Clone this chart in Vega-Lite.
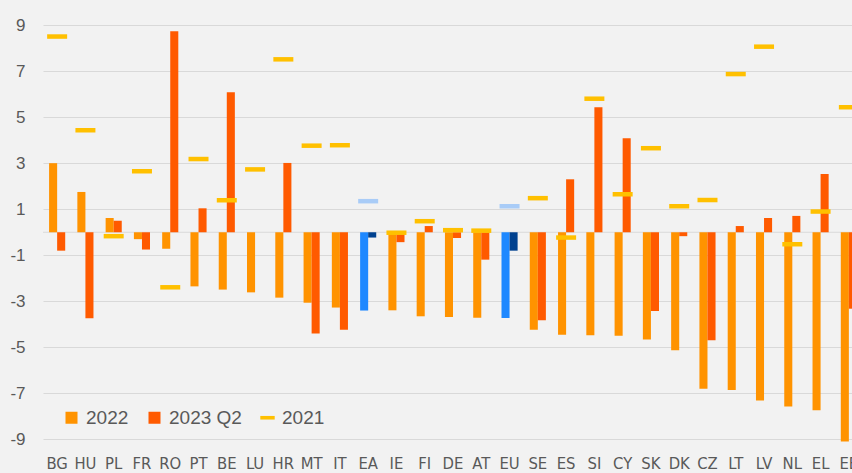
{
  "$schema": "https://vega.github.io/schema/vega-lite/v6.json",
  "width": 809,
  "height": 449,
  "autosize": {"type": "none"},
  "padding": {"left": 43, "top": 2, "right": 0, "bottom": 22},
  "background": "#F2F2F2",
  "config": {
    "view": {"stroke": null},
    "font": "Liberation Sans",
    "axis": {"domain": false, "ticks": false, "labelColor": "#595959", "title": null},
    "axisY": {"grid": true, "gridColor": "#D9D9D9", "gridWidth": 1, "labelFontSize": 17, "labelPadding": 18, "labelFont": "Liberation Sans"},
    "axisX": {"grid": false, "labelFontSize": 16.5, "labelPadding": 4, "labelAngle": 0, "labelFont": "Liberation Sans Narrow, DejaVu Sans Condensed, Liberation Sans"}
  },
  "data": {
    "values": [
      {"country": "BG", "area": "country", "series": "2022", "value": 3.0},
      {"country": "BG", "area": "country", "series": "2023 Q2", "value": -0.8},
      {"country": "BG", "area": "country", "series": "2021", "value": 8.5},
      {"country": "HU", "area": "country", "series": "2022", "value": 1.75},
      {"country": "HU", "area": "country", "series": "2023 Q2", "value": -3.73},
      {"country": "HU", "area": "country", "series": "2021", "value": 4.43},
      {"country": "PL", "area": "country", "series": "2022", "value": 0.62},
      {"country": "PL", "area": "country", "series": "2023 Q2", "value": 0.5},
      {"country": "PL", "area": "country", "series": "2021", "value": -0.17},
      {"country": "FR", "area": "country", "series": "2022", "value": -0.3},
      {"country": "FR", "area": "country", "series": "2023 Q2", "value": -0.75},
      {"country": "FR", "area": "country", "series": "2021", "value": 2.65},
      {"country": "RO", "area": "country", "series": "2022", "value": -0.72},
      {"country": "RO", "area": "country", "series": "2023 Q2", "value": 8.73},
      {"country": "RO", "area": "country", "series": "2021", "value": -2.39},
      {"country": "PT", "area": "country", "series": "2022", "value": -2.35},
      {"country": "PT", "area": "country", "series": "2023 Q2", "value": 1.04},
      {"country": "PT", "area": "country", "series": "2021", "value": 3.18},
      {"country": "BE", "area": "country", "series": "2022", "value": -2.49},
      {"country": "BE", "area": "country", "series": "2023 Q2", "value": 6.08},
      {"country": "BE", "area": "country", "series": "2021", "value": 1.39},
      {"country": "LU", "area": "country", "series": "2022", "value": -2.61},
      {"country": "LU", "area": "country", "series": "2023 Q2", "value": 0.0},
      {"country": "LU", "area": "country", "series": "2021", "value": 2.73},
      {"country": "HR", "area": "country", "series": "2022", "value": -2.84},
      {"country": "HR", "area": "country", "series": "2023 Q2", "value": 3.01},
      {"country": "HR", "area": "country", "series": "2021", "value": 7.51},
      {"country": "MT", "area": "country", "series": "2022", "value": -3.06},
      {"country": "MT", "area": "country", "series": "2023 Q2", "value": -4.4},
      {"country": "MT", "area": "country", "series": "2021", "value": 3.76},
      {"country": "IT", "area": "country", "series": "2022", "value": -3.27},
      {"country": "IT", "area": "country", "series": "2023 Q2", "value": -4.23},
      {"country": "IT", "area": "country", "series": "2021", "value": 3.78},
      {"country": "EA", "area": "aggregate", "series": "2022", "value": -3.4},
      {"country": "EA", "area": "aggregate", "series": "2023 Q2", "value": -0.23},
      {"country": "EA", "area": "aggregate", "series": "2021", "value": 1.35},
      {"country": "IE", "area": "country", "series": "2022", "value": -3.39},
      {"country": "IE", "area": "country", "series": "2023 Q2", "value": -0.43},
      {"country": "IE", "area": "country", "series": "2021", "value": -0.02},
      {"country": "FI", "area": "country", "series": "2022", "value": -3.65},
      {"country": "FI", "area": "country", "series": "2023 Q2", "value": 0.27},
      {"country": "FI", "area": "country", "series": "2021", "value": 0.48},
      {"country": "DE", "area": "country", "series": "2022", "value": -3.68},
      {"country": "DE", "area": "country", "series": "2023 Q2", "value": -0.25},
      {"country": "DE", "area": "country", "series": "2021", "value": 0.09},
      {"country": "AT", "area": "country", "series": "2022", "value": -3.71},
      {"country": "AT", "area": "country", "series": "2023 Q2", "value": -1.19},
      {"country": "AT", "area": "country", "series": "2021", "value": 0.07},
      {"country": "EU", "area": "aggregate", "series": "2022", "value": -3.72},
      {"country": "EU", "area": "aggregate", "series": "2023 Q2", "value": -0.8},
      {"country": "EU", "area": "aggregate", "series": "2021", "value": 1.13},
      {"country": "SE", "area": "country", "series": "2022", "value": -4.23},
      {"country": "SE", "area": "country", "series": "2023 Q2", "value": -3.82},
      {"country": "SE", "area": "country", "series": "2021", "value": 1.48},
      {"country": "ES", "area": "country", "series": "2022", "value": -4.45},
      {"country": "ES", "area": "country", "series": "2023 Q2", "value": 2.3},
      {"country": "ES", "area": "country", "series": "2021", "value": -0.23},
      {"country": "SI", "area": "country", "series": "2022", "value": -4.47},
      {"country": "SI", "area": "country", "series": "2023 Q2", "value": 5.43},
      {"country": "SI", "area": "country", "series": "2021", "value": 5.8},
      {"country": "CY", "area": "country", "series": "2022", "value": -4.5},
      {"country": "CY", "area": "country", "series": "2023 Q2", "value": 4.08},
      {"country": "CY", "area": "country", "series": "2021", "value": 1.65},
      {"country": "SK", "area": "country", "series": "2022", "value": -4.66},
      {"country": "SK", "area": "country", "series": "2023 Q2", "value": -3.42},
      {"country": "SK", "area": "country", "series": "2021", "value": 3.65},
      {"country": "DK", "area": "country", "series": "2022", "value": -5.12},
      {"country": "DK", "area": "country", "series": "2023 Q2", "value": -0.17},
      {"country": "DK", "area": "country", "series": "2021", "value": 1.13},
      {"country": "CZ", "area": "country", "series": "2022", "value": -6.8},
      {"country": "CZ", "area": "country", "series": "2023 Q2", "value": -4.69},
      {"country": "CZ", "area": "country", "series": "2021", "value": 1.4},
      {"country": "LT", "area": "country", "series": "2022", "value": -6.85},
      {"country": "LT", "area": "country", "series": "2023 Q2", "value": 0.27},
      {"country": "LT", "area": "country", "series": "2021", "value": 6.87},
      {"country": "LV", "area": "country", "series": "2022", "value": -7.31},
      {"country": "LV", "area": "country", "series": "2023 Q2", "value": 0.62},
      {"country": "LV", "area": "country", "series": "2021", "value": 8.06},
      {"country": "NL", "area": "country", "series": "2022", "value": -7.57},
      {"country": "NL", "area": "country", "series": "2023 Q2", "value": 0.71},
      {"country": "NL", "area": "country", "series": "2021", "value": -0.52},
      {"country": "EL", "area": "country", "series": "2022", "value": -7.73},
      {"country": "EL", "area": "country", "series": "2023 Q2", "value": 2.53},
      {"country": "EL", "area": "country", "series": "2021", "value": 0.9},
      {"country": "EE", "area": "country", "series": "2022", "value": -9.09},
      {"country": "EE", "area": "country", "series": "2023 Q2", "value": -3.32},
      {"country": "EE", "area": "country", "series": "2021", "value": 5.43}
    ]
  },
  "layer": [
    {
      "data": {"values": [{"value": 0}]},
      "mark": {"type": "rule", "color": "#D9D9D9", "strokeWidth": 1},
      "encoding": {
        "y": {"field": "value", "type": "quantitative", "scale": {"domain": [-9.5, 10], "nice": false, "zero": false}, "axis": {"values": [-9, -7, -5, -3, -1, 1, 3, 5, 7, 9], "title": null, "labelExpr": "datum.value + ''"}}
      }
    },
    {
      "transform": [{"filter": "datum.area === 'country' && datum.series !== '2021'"}],
      "mark": {"type": "bar"},
      "encoding": {
        "x": {"field": "country", "type": "nominal", "scale": {"domain": ["BG","HU","PL","FR","RO","PT","BE","LU","HR","MT","IT","EA","IE","FI","DE","AT","EU","SE","ES","SI","CY","SK","DK","CZ","LT","LV","NL","EL","EE"], "range": [0, 820], "paddingInner": 0.43, "paddingOuter": 0.215}, "axis": {"title": null}},
        "xOffset": {"field": "series", "type": "nominal", "scale": {"domain": ["2022", "2023 Q2"]}},
        "y": {"field": "value", "type": "quantitative", "scale": {"domain": [-9.5, 10], "nice": false, "zero": false}},
        "color": {
          "field": "series", "type": "nominal",
          "scale": {"domain": ["2022", "2023 Q2", "2021"], "range": ["#FF9300", "#FF5A00", "#FFC000"]},
          "legend": {
            "orient": "none", "legendX": 19, "legendY": 406, "direction": "horizontal", "title": null,
            "symbolType": "square", "symbolSize": 144, "symbolStrokeWidth": 0, "symbolOpacity": 1,
            "labelFontSize": 19, "labelColor": "#595959", "labelFont": "Liberation Sans",
            "columnPadding": 16, "labelOffset": 5, "padding": 0,
            "encode": {"symbols": {"update": {"shape": {"signal": "datum.value === '2021' ? 'M-1.2,-0.3H1.2V0.3H-1.2Z' : 'square'"}}}}
          }
        }
      }
    },
    {
      "transform": [{"filter": "datum.area === 'aggregate' && datum.series !== '2021'"}],
      "mark": {"type": "bar"},
      "encoding": {
        "x": {"field": "country", "type": "nominal", "scale": {"domain": ["BG","HU","PL","FR","RO","PT","BE","LU","HR","MT","IT","EA","IE","FI","DE","AT","EU","SE","ES","SI","CY","SK","DK","CZ","LT","LV","NL","EL","EE"], "range": [0, 820], "paddingInner": 0.43, "paddingOuter": 0.215}, "axis": {"title": null}},
        "xOffset": {"field": "series", "type": "nominal", "scale": {"domain": ["2022", "2023 Q2"]}},
        "y": {"field": "value", "type": "quantitative", "scale": {"domain": [-9.5, 10], "nice": false, "zero": false}},
        "color": {"field": "series", "type": "nominal", "scale": {"domain": ["2022", "2023 Q2"], "range": ["#1E88FF", "#00418F"]}, "legend": null}
      }
    },
    {
      "transform": [{"filter": "datum.series === '2021'"}],
      "mark": {"type": "tick", "thickness": 4.5, "size": 20},
      "encoding": {
        "x": {"field": "country", "type": "nominal", "scale": {"domain": ["BG","HU","PL","FR","RO","PT","BE","LU","HR","MT","IT","EA","IE","FI","DE","AT","EU","SE","ES","SI","CY","SK","DK","CZ","LT","LV","NL","EL","EE"], "range": [0, 820], "paddingInner": 0.43, "paddingOuter": 0.215}, "axis": {"title": null}},
        "y": {"field": "value", "type": "quantitative", "scale": {"domain": [-9.5, 10], "nice": false, "zero": false}},
        "color": {"condition": {"test": "datum.area === 'aggregate'", "value": "#A9CCF7"}, "value": "#FFC000"},
        "opacity": {"value": 1}
      }
    }
  ],
  "resolve": {"scale": {"color": "independent"}}
}
